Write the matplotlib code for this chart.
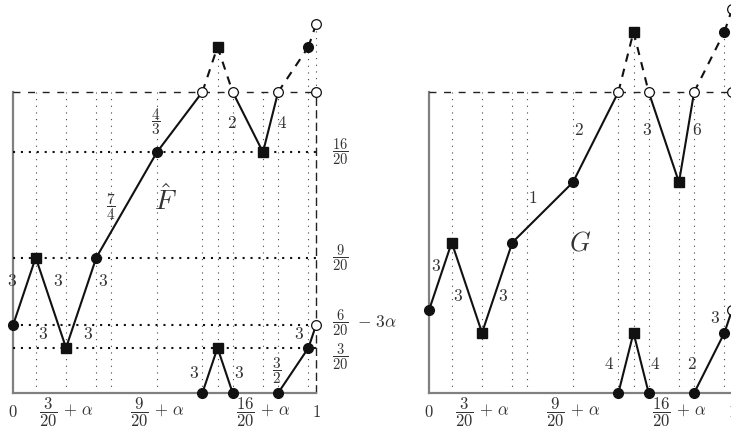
import numpy as np
import matplotlib.pyplot as plt

plt.rcParams['mathtext.fontset'] = 'cm'

# knot positions shared by both maps (alpha = 0.025)
knots_x = [0, 0.075, 0.175, 0.275, 0.475, 0.625, 0.675, 0.725, 0.825, 0.875, 0.975, 1.0]
grid_x = [0.075, 0.175, 0.275, 0.325, 0.475, 0.625, 0.675, 0.725, 0.825, 0.875, 0.975]

# lifted values (values above 1 are drawn dashed and again shifted down by 1)
F_y = [0.225, 0.45, 0.15, 0.45, 0.8, 1.0, 1.15, 1.0, 0.8, 1.0, 1.15, 1.225]
G_y = [0.275, 0.5, 0.2, 0.5, 0.7, 1.0, 1.2, 1.0, 0.7, 1.0, 1.2, 1.275]
# c = filled circle, s = square, o = open circle
F_marks = ['c', 's', 's', 'c', 'c', 'o', 's', 'o', 's', 'o', 'c', 'o']
G_marks = ['c', 's', 's', 'c', 'c', 'o', 's', 'o', 's', 'o', 'c', 'o']

F_levels = [0.8, 0.45, 0.225, 0.15]
F_level_label_y = [0.8, 0.45, 0.235, 0.12]
F_level_labels = [r'$\dfrac{16}{20}$', r'$\dfrac{9}{20}$', r'$\dfrac{6}{20}$', r'$\dfrac{3}{20}$']
F_level_suffix = ['', '', r'$-\ 3\alpha$', '']

tick_x = [0, 0.175, 0.475, 0.825, 1.0]
tick_labels = [r'$0$', r'$\dfrac{3}{20}\,+\,\alpha$', r'$\dfrac{9}{20}\,+\,\alpha$',
               r'$\dfrac{16}{20}\,+\,\alpha$', r'$1$']

F_slopes = [('3', -0.003, 0.372), ('3', 0.149, 0.372), ('3', 0.297, 0.372),
            ('3', 0.099, 0.196), ('3', 0.248, 0.196), (r'\dfrac{7}{4}', 0.323, 0.618),
            (r'\dfrac{4}{3}', 0.472, 0.90), ('2', 0.723, 0.897), ('4', 0.888, 0.897),
            ('3', 0.597, 0.066), ('3', 0.746, 0.066), (r'\dfrac{3}{2}', 0.871, 0.076),
            ('3', 0.944, 0.196)]
G_slopes = [('3', 0.023, 0.422), ('3', 0.096, 0.322), ('3', 0.244, 0.322),
            ('1', 0.343, 0.648), ('2', 0.495, 0.874), ('3', 0.719, 0.874),
            ('6', 0.884, 0.874), ('4', 0.594, 0.096), ('4', 0.746, 0.096),
            ('2', 0.868, 0.096), ('3', 0.944, 0.249)]

TXT = '#333333'
DASH = (0, (5, 5.5))


def marker(ax, x, y, kind):
    if kind == 's':
        ax.plot(x, y, 's', ms=6.5, color='#111111', zorder=5, clip_on=False)
    elif kind == 'c':
        ax.plot(x, y, 'o', ms=7, color='#111111', zorder=5, clip_on=False)
    else:
        ax.plot(x, y, 'o', ms=7, mfc='white', mec='#111111', mew=0.9, zorder=5, clip_on=False)


def draw_map(ax, ys, marks, slopes, name, name_pos, name_size):
    ax.set_xlim(0, 1)
    ax.set_ylim(0, 1)
    ax.axis('off')

    # dotted verticals
    for gx in grid_x:
        top = 1.0
        if gx in knots_x:
            top = max(1.0, ys[knots_x.index(gx)])
        ax.plot([gx, gx], [0, top], color='#444444', lw=0.8, ls=(0, (1, 5)), clip_on=False, zorder=1)
    ax.plot([1, 1], [0, 1], color='#222222', lw=1.0, ls=(0, (6, 3)), clip_on=False, zorder=1)
    ax.plot([1, 1], [1, ys[-1]], color='#444444', lw=0.8, ls=(0, (1, 5)), clip_on=False, zorder=1)

    # frame
    ax.plot([0, 0], [0, 1], color='#808080', lw=1.6, clip_on=False, zorder=2)
    ax.plot([0, 1], [0, 0], color='#808080', lw=1.6, clip_on=False, zorder=2)
    ax.plot([0, 1], [1, 1], color='#222222', lw=1.0, ls=DASH, clip_on=False, zorder=2)

    # graph
    for i in range(len(knots_x) - 1):
        x0, x1 = knots_x[i], knots_x[i + 1]
        y0, y1 = ys[i], ys[i + 1]
        if min(y0, y1) >= 1:
            ax.plot([x0, x1], [y0, y1], color='#111111', lw=1.5, ls=(0, (4, 3.5)), clip_on=False, zorder=3)
            ax.plot([x0, x1], [y0 - 1, y1 - 1], color='#111111', lw=1.5, clip_on=False, zorder=3)
        else:
            ax.plot([x0, x1], [y0, y1], color='#111111', lw=1.5, clip_on=False, zorder=3)

    for i, (x, y) in enumerate(zip(knots_x, ys)):
        marker(ax, x, y, marks[i])
        above = (i > 0 and min(ys[i - 1], y) >= 1) or (i < len(ys) - 1 and min(ys[i + 1], y) >= 1)
        if above:
            kind = 'c' if y == 1 else marks[i]
            marker(ax, x, y - 1, kind)
    marker(ax, 1.0, 1.0, 'o')

    for s, x, y in slopes:
        fs = 11 if 'frac' in s else 12.5
        ax.text(x, y, '$' + s + '$', fontsize=fs, color=TXT, ha='center', va='center', clip_on=False)
    ax.text(name_pos[0], name_pos[1], name, fontsize=name_size, color=TXT, ha='center', va='center')

    for tx, tl in zip(tick_x, tick_labels):
        ax.text(tx, -0.063, tl, fontsize=12, color=TXT, ha='center', va='center', clip_on=False)


fig = plt.figure(figsize=(7.31, 4.28), dpi=100)
axL = fig.add_axes([13 / 731, 35 / 428, 303 / 731, 301 / 428])
axR = fig.add_axes([429 / 731, 35 / 428, 303 / 731, 301 / 428])

draw_map(axL, F_y, F_marks, F_slopes, r'$\hat{F}$', (0.502, 0.641), 20)
draw_map(axR, G_y, G_marks, G_slopes, r'$G$', (0.498, 0.498), 19)

for lv, ly, lab, suf in zip(F_levels, F_level_label_y, F_level_labels, F_level_suffix):
    axL.plot([0, 1], [lv, lv], color='#111111', lw=1.5, ls=(0, (1, 2.8)), clip_on=False, zorder=2)
    axL.text(1.052, ly, lab, fontsize=10.5, color=TXT, ha='left', va='center', clip_on=False)
    if suf:
        axL.text(1.135, ly, suf, fontsize=12.5, color=TXT, ha='left', va='center', clip_on=False)

fig.savefig('out.png', dpi=100)
